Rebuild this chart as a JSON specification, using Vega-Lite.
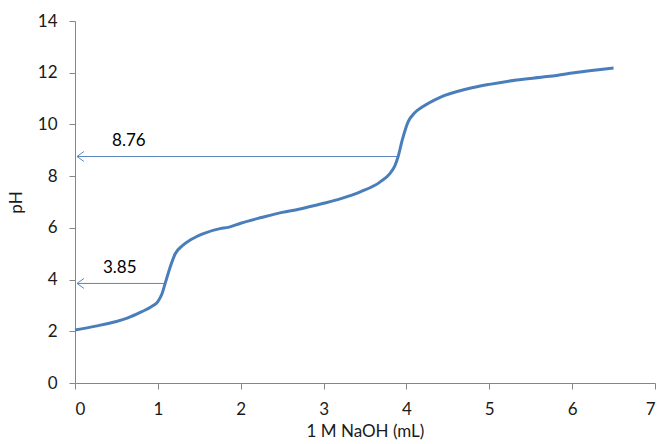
{
  "$schema": "https://vega.github.io/schema/vega-lite/v6.json",
  "width": 580,
  "height": 362,
  "autosize": {"type": "none"},
  "padding": {"left": 75, "top": 21, "right": 7, "bottom": 61},
  "config": {
    "view": {"stroke": null},
    "font": "Lato",
    "axis": {
      "grid": false,
      "domainColor": "#868686",
      "tickColor": "#868686",
      "tickSize": 6,
      "labelFont": "Lato",
      "labelFontSize": 17,
      "labelColor": "#1a1a1a",
      "titleFont": "Lato",
      "titleFontSize": 17,
      "titleFontWeight": "normal",
      "titleColor": "#1a1a1a"
    }
  },
  "datasets": {
    "curve": [
      {"v": 0.0, "pH": 2.05},
      {"v": 0.25, "pH": 2.2},
      {"v": 0.5, "pH": 2.38},
      {"v": 0.63, "pH": 2.51},
      {"v": 0.8, "pH": 2.75},
      {"v": 0.92, "pH": 2.95},
      {"v": 1.0, "pH": 3.15},
      {"v": 1.05, "pH": 3.45},
      {"v": 1.09, "pH": 3.87},
      {"v": 1.15, "pH": 4.5},
      {"v": 1.21, "pH": 5.0},
      {"v": 1.3, "pH": 5.32},
      {"v": 1.4, "pH": 5.55},
      {"v": 1.55, "pH": 5.78},
      {"v": 1.75, "pH": 5.97},
      {"v": 1.85, "pH": 6.02},
      {"v": 2.0, "pH": 6.18},
      {"v": 2.25, "pH": 6.4},
      {"v": 2.5, "pH": 6.6},
      {"v": 2.7, "pH": 6.72},
      {"v": 3.0, "pH": 6.95},
      {"v": 3.2, "pH": 7.12},
      {"v": 3.45, "pH": 7.4},
      {"v": 3.68, "pH": 7.77},
      {"v": 3.8, "pH": 8.1},
      {"v": 3.86, "pH": 8.4},
      {"v": 3.9, "pH": 8.76},
      {"v": 3.95, "pH": 9.4},
      {"v": 4.02, "pH": 10.1},
      {"v": 4.1, "pH": 10.45},
      {"v": 4.19, "pH": 10.67},
      {"v": 4.4, "pH": 11.04},
      {"v": 4.73, "pH": 11.37},
      {"v": 5.0, "pH": 11.55},
      {"v": 5.33, "pH": 11.72},
      {"v": 5.7, "pH": 11.85},
      {"v": 6.0, "pH": 11.99},
      {"v": 6.5, "pH": 12.18}
    ],
    "arrows": [
      {"x0": 0.024, "x1": 3.9, "y": 8.76, "label": "8.76", "lx": 0.65, "ly": 9.36},
      {"x0": 0.024, "x1": 1.09, "y": 3.85, "label": "3.85", "lx": 0.54, "ly": 4.45}
    ]
  },
  "layer": [
    {
      "data": {"name": "arrows"},
      "mark": {"type": "rule", "color": "#5b85c0", "strokeWidth": 1},
      "encoding": {
        "x": {"field": "x0", "type": "quantitative"},
        "x2": {"field": "x1"},
        "y": {"field": "y", "type": "quantitative"}
      }
    },
    {
      "data": {"name": "arrows"},
      "mark": {"type": "point", "shape": "M 1.4 -1 L 0 0 L 1.4 1", "filled": false, "color": "#5b85c0", "strokeWidth": 1, "size": 100, "opacity": 1},
      "encoding": {
        "x": {"field": "x0", "type": "quantitative"},
        "y": {"field": "y", "type": "quantitative"}
      }
    },
    {
      "data": {"name": "arrows"},
      "mark": {"type": "text", "fontSize": 17, "font": "Lato", "color": "#000000", "align": "center", "baseline": "middle"},
      "encoding": {
        "x": {"field": "lx", "type": "quantitative"},
        "y": {"field": "ly", "type": "quantitative"},
        "text": {"field": "label"}
      }
    },
    {
      "data": {"name": "curve"},
      "mark": {"type": "line", "color": "#4a7ebb", "strokeWidth": 3, "interpolate": "monotone"},
      "encoding": {
        "x": {
          "field": "v", "type": "quantitative",
          "scale": {"domain": [0, 7], "nice": false},
          "axis": {"values": [0, 1, 2, 3, 4, 5, 6, 7], "format": "d", "title": "1 M NaOH (mL)", "labelPadding": 12, "titlePadding": 6}
        },
        "y": {
          "field": "pH", "type": "quantitative",
          "scale": {"domain": [0, 14], "nice": false},
          "axis": {"values": [0, 2, 4, 6, 8, 10, 12, 14], "format": "d", "title": "pH", "labelPadding": 12, "titlePadding": 12}
        }
      }
    }
  ]
}
